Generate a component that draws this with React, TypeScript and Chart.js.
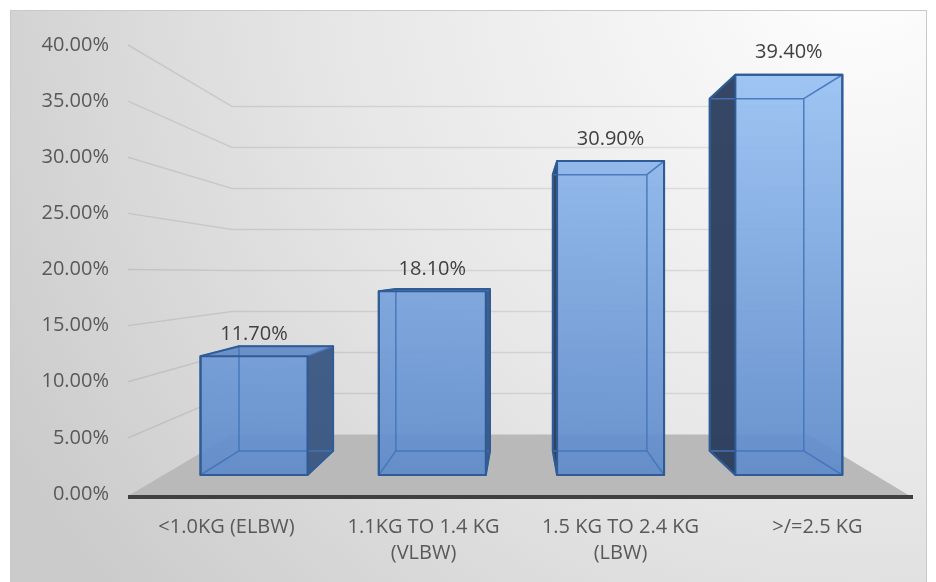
import { useEffect, useRef } from "react";
import { Chart, registerables } from "chart.js";

Chart.register(...registerables);

// Birth-weight groups and their share of births (percent)
const categories: string[][] = [
  ["<1.0KG (ELBW)"],
  ["1.1KG TO 1.4 KG", "(VLBW)"],
  ["1.5 KG TO 2.4 KG", "(LBW)"],
  [">/=2.5 KG"],
];
const shares = [11.7, 18.1, 30.9, 39.4];
const axisMin = 0;
const axisMax = 40;
const axisStep = 5;

const pct = (v: number) => `${v.toFixed(2)}%`;

const FONT = '"Open Sans", sans-serif';
const TEXT = "#595959";

type Pt = { x: number; y: number };
type Rect = { l: number; t: number; r: number; b: number };

// Pull a point of the front plane toward a vanishing point (perspective depth).
const toward = (p: Pt, vp: Pt, s: number): Pt => ({
  x: vp.x + (p.x - vp.x) * s,
  y: vp.y + (p.y - vp.y) * s,
});

// Vanishing points are given as fractions of the chart area.
const vpAt = (ca: any, fx: number, fy: number): Pt => ({
  x: ca.left + fx * (ca.right - ca.left),
  y: ca.top + fy * (ca.bottom - ca.top),
});

const FACE = { fx: 0.4924, fy: 0.5546, s: 0.905 }; // front faces of the columns
const DEPTH = { fx: 0.4987, fy: 0.51, s: 0.88 }; // back faces, relative to front faces
const WALL = { fx: 0.4898, fy: 0.5078, s: 0.7305 }; // back wall and floor edge

function hull(points: Pt[]): Pt[] {
  const pts = [...points].sort((a, b) => a.x - b.x || a.y - b.y);
  const cross = (o: Pt, a: Pt, b: Pt) => (a.x - o.x) * (b.y - o.y) - (a.y - o.y) * (b.x - o.x);
  const lower: Pt[] = [];
  for (const p of pts) {
    while (lower.length >= 2 && cross(lower[lower.length - 2], lower[lower.length - 1], p) <= 0) lower.pop();
    lower.push(p);
  }
  const upper: Pt[] = [];
  for (let i = pts.length - 1; i >= 0; i--) {
    const p = pts[i];
    while (upper.length >= 2 && cross(upper[upper.length - 2], upper[upper.length - 1], p) <= 0) upper.pop();
    upper.push(p);
  }
  upper.pop();
  lower.pop();
  return lower.concat(upper);
}

function poly(ctx: CanvasRenderingContext2D, pts: Pt[]) {
  ctx.beginPath();
  pts.forEach((p, i) => (i === 0 ? ctx.moveTo(p.x, p.y) : ctx.lineTo(p.x, p.y)));
  ctx.closePath();
}

function line(ctx: CanvasRenderingContext2D, a: Pt, b: Pt) {
  ctx.beginPath();
  ctx.moveTo(a.x, a.y);
  ctx.lineTo(b.x, b.y);
  ctx.stroke();
}

const scenePlugin = {
  id: "scene3d",
  beforeDraw(chart: any) {
    const { ctx, width, height } = chart;
    ctx.save();
    ctx.fillStyle = "#ffffff";
    ctx.fillRect(0, 0, width, height);
    const g = ctx.createRadialGradient(860, -40, 0, 860, -40, 980);
    g.addColorStop(0, "#ffffff");
    g.addColorStop(0.18, "#f6f6f6");
    g.addColorStop(0.55, "#e6e6e6");
    g.addColorStop(1, "#cbcbcb");
    ctx.fillStyle = g;
    ctx.fillRect(10, 10, 916, height);
    ctx.strokeStyle = "#c9c9c9";
    ctx.lineWidth = 1;
    ctx.strokeRect(10.5, 10.5, 916, height);
    ctx.restore();
  },
  beforeDatasetsDraw(chart: any) {
    const { ctx, chartArea: ca } = chart;
    const yScale = chart.scales.y;
    const wallVp = vpAt(ca, WALL.fx, WALL.fy);
    ctx.save();

    // side-wall and back-wall gridlines
    ctx.strokeStyle = "rgba(0,0,0,0.09)";
    ctx.lineWidth = 1.5;
    const backRight = toward({ x: ca.right, y: ca.bottom }, wallVp, WALL.s).x;
    for (let v = axisMin + axisStep; v <= axisMax; v += axisStep) {
      const front = { x: ca.left, y: yScale.getPixelForValue(v) };
      const back = toward(front, wallVp, WALL.s);
      ctx.beginPath();
      ctx.moveTo(front.x, front.y);
      ctx.lineTo(back.x, back.y);
      ctx.lineTo(backRight, back.y);
      ctx.stroke();
    }

    // floor
    const y0 = yScale.getPixelForValue(axisMin);
    const bl = toward({ x: ca.left, y: y0 }, wallVp, WALL.s);
    const br = toward({ x: ca.right, y: y0 }, wallVp, WALL.s);
    ctx.fillStyle = "#b9b9b9";
    poly(ctx, [
      { x: ca.left, y: y0 + 2 },
      bl,
      br,
      { x: ca.right - 6, y: y0 + 2 },
    ]);
    ctx.fill();

    // category axis line
    ctx.strokeStyle = "#404040";
    ctx.lineWidth = 4;
    line(ctx, { x: ca.left, y: y0 + 3 }, { x: ca.right - 3, y: y0 + 3 });
    ctx.restore();
  },
  afterDatasetsDraw(chart: any) {
    const { ctx, chartArea: ca } = chart;
    const faceVp = vpAt(ca, FACE.fx, FACE.fy);
    const depthVp = vpAt(ca, DEPTH.fx, DEPTH.fy);
    const meta = chart.getDatasetMeta(0);
    ctx.save();

    const faceFill = ctx.createLinearGradient(0, ca.top + 25, 0, ca.bottom - 19);
    faceFill.addColorStop(0, "rgba(152,193,243,0.92)");
    faceFill.addColorStop(1, "rgba(94,138,202,0.92)");

    meta.data.forEach((bar: any, i: number) => {
      const { x, y, base, width } = bar.getProps(["x", "y", "base", "width"], true);
      const a = toward({ x: x - width / 2, y }, faceVp, FACE.s);
      const b = toward({ x: x + width / 2, y: base }, faceVp, FACE.s);
      const F: Rect = { l: a.x, t: a.y, r: b.x, b: b.y };
      const c = toward({ x: F.l, y: F.t }, depthVp, DEPTH.s);
      const d = toward({ x: F.r, y: F.b }, depthVp, DEPTH.s);
      const B: Rect = { l: c.x, t: c.y, r: d.x, b: d.y };

      const fTL = { x: F.l, y: F.t }, fTR = { x: F.r, y: F.t };
      const fBL = { x: F.l, y: F.b }, fBR = { x: F.r, y: F.b };
      const bTL = { x: B.l, y: B.t }, bTR = { x: B.r, y: B.t };
      const bBL = { x: B.l, y: B.b }, bBR = { x: B.r, y: B.b };

      const outline = hull([fTL, fTR, fBL, fBR, bTL, bTR, bBL, bBR]);
      ctx.fillStyle = faceFill;
      poly(ctx, outline);
      ctx.fill();

      // top face seen from above
      if (B.t < F.t) {
        ctx.fillStyle = "rgba(30,60,110,0.14)";
        poly(ctx, [fTL, bTL, bTR, fTR]);
        ctx.fill();
      }
      // side faces
      if (B.l < F.l) {
        ctx.fillStyle = "rgba(42,58,84,0.9)";
        poly(ctx, [bTL, fTL, fBL, bBL]);
        ctx.fill();
      }
      if (B.r > F.r) {
        ctx.fillStyle = "rgba(56,82,120,0.85)";
        poly(ctx, [fTR, bTR, bBR, fBR]);
        ctx.fill();
      }

      // hidden edges, seen through the translucent faces
      ctx.strokeStyle = "rgba(66,116,186,0.9)";
      ctx.lineWidth = 1.5;
      poly(ctx, [bTL, bTR, bBR, bBL]);
      ctx.stroke();
      line(ctx, fTL, bTL);
      line(ctx, fTR, bTR);
      line(ctx, fBL, bBL);
      line(ctx, fBR, bBR);

      // visible edges
      ctx.strokeStyle = "#2f5b97";
      ctx.lineWidth = 2;
      ctx.lineJoin = "round";
      poly(ctx, outline);
      ctx.stroke();
      poly(ctx, [fTL, fTR, fBR, fBL]);
      ctx.stroke();

      // value label
      ctx.fillStyle = "#404040";
      ctx.font = `20px ${FONT}`;
      ctx.textAlign = "center";
      ctx.textBaseline = "middle";
      ctx.fillText(pct(shares[i]), (F.l + F.r) / 2, F.t - 22);
    });
    ctx.restore();
  },
};

export default function App() {
  const ref = useRef<HTMLCanvasElement>(null);

  useEffect(() => {
    const chart = new Chart(ref.current!, {
      type: "bar",
      data: {
        labels: categories,
        datasets: [
          {
            data: shares,
            backgroundColor: "rgba(0,0,0,0)",
            borderWidth: 0,
            categoryPercentage: 1,
            barPercentage: 0.6,
          },
        ],
      },
      options: {
        responsive: true,
        maintainAspectRatio: false,
        animation: false,
        layout: { padding: { top: 45, right: 20, left: 0, bottom: 0 } },
        plugins: { legend: { display: false }, tooltip: { enabled: false } },
        scales: {
          x: {
            grid: { display: false, drawTicks: false },
            border: { display: false },
            ticks: {
              color: TEXT,
              font: { family: FONT, size: 20, lineHeight: 1.3 },
              padding: 20,
              maxRotation: 0,
              autoSkip: false,
            },
            afterFit: (s: any) => {
              s.height = 88;
            },
          },
          y: {
            min: axisMin,
            max: axisMax,
            grid: { display: false, drawTicks: false },
            border: { display: false },
            ticks: {
              stepSize: axisStep,
              color: TEXT,
              font: { family: FONT, size: 20 },
              padding: 19,
              callback: (v: any) => pct(Number(v)),
            },
            afterFit: (s: any) => {
              s.width = 128;
            },
          },
        },
      },
      plugins: [scenePlugin],
    });
    return () => chart.destroy();
  }, []);

  return (
    <div style={{ position: "absolute", left: 0, top: 0, width: 936, height: 582 }}>
      <canvas ref={ref} />
    </div>
  );
}
